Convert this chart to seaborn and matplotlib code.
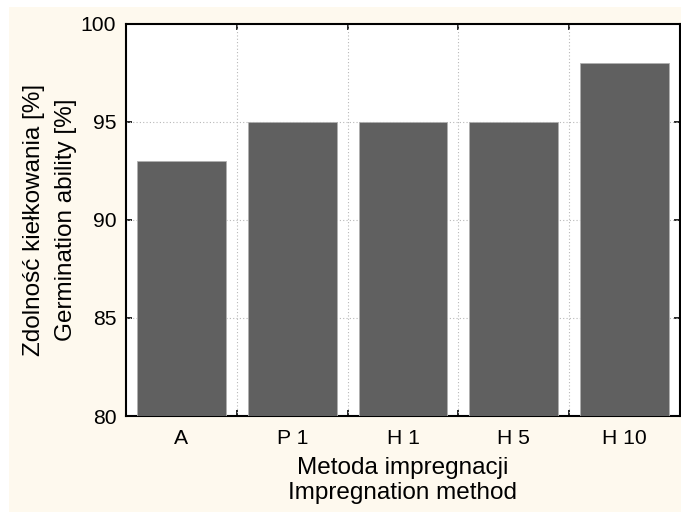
import matplotlib
matplotlib.use("Agg")
import matplotlib.pyplot as plt
import seaborn as sns
import pandas as pd
from matplotlib.patches import Rectangle

categories = ["A", "P 1", "H 1", "H 5", "H 10"]
values = [93, 95, 95, 95, 98]
y_ticks = [80, 85, 90, 95, 100]

sns.set_theme(style="white")
plt.rcParams['font.family'] = ['Liberation Sans', 'DejaVu Sans']

df = pd.DataFrame({"method": categories, "ability": values})

fig = plt.figure(figsize=(6.81, 5.12), dpi=100)
fig.patch.set_facecolor("white")
fig.patches.append(Rectangle((9 / 681, 0), 1, 1 - 7 / 512, transform=fig.transFigure,
                             facecolor="#FEF9EE", edgecolor="none", zorder=-10))
ax = fig.add_axes([126 / 681, 1 - 416 / 512, (680 - 126) / 681, (416 - 24) / 512])
ax.set_facecolor("white")

sns.barplot(data=df, x="method", y="ability", color="#606060", width=0.8,
            edgecolor="#b0b0b0", linewidth=0.6, saturation=1, ax=ax, zorder=3)

ax.set_xlim(-0.5, len(categories) - 0.5)
ax.set_ylim(80, 100)
ax.set_yticks(y_ticks)
ax.set_xticks(range(len(categories)))
ax.set_xticklabels(categories)

# grid lines
for b in [i + 0.5 for i in range(len(categories) - 1)]:
    ax.axvline(b, color="#b8b8b8", linestyle=(0, (1, 2)), linewidth=0.8, zorder=1)
for yv in y_ticks[1:-1]:
    ax.axhline(yv, color="#b8b8b8", linestyle=(0, (1, 2)), linewidth=0.8, zorder=1)

# boundary ticks on top/bottom
ax.set_xticks([i + 0.5 for i in range(len(categories) - 1)], minor=True)
ax.tick_params(axis="x", which="major", length=0, labelsize=15.2, pad=9, colors="black")
ax.tick_params(axis="x", which="minor", direction="in", length=4, width=1.2,
               top=True, bottom=True, color="black")
ax.tick_params(axis="y", which="major", direction="in", length=4, width=1.2,
               left=True, right=True, labelsize=15.2, pad=7, color="black")
for lab in ax.get_xticklabels() + ax.get_yticklabels():
    lab.set_color("black")

for s in ax.spines.values():
    s.set_visible(True)
    s.set_color("black")
    s.set_linewidth(1.5)

ax.set_xlabel("Metoda impregnacji\nImpregnation method", fontsize=17.5, labelpad=7,
              color="black", linespacing=1.15)
ax.set_ylabel("Zdolność kiełkowania [%]\nGermination ability [%]", fontsize=17.5,
              color="black", linespacing=1.6)
ax.yaxis.set_label_coords(-0.088, 0.5)

fig.savefig("out.png", dpi=100, facecolor=fig.get_facecolor())
